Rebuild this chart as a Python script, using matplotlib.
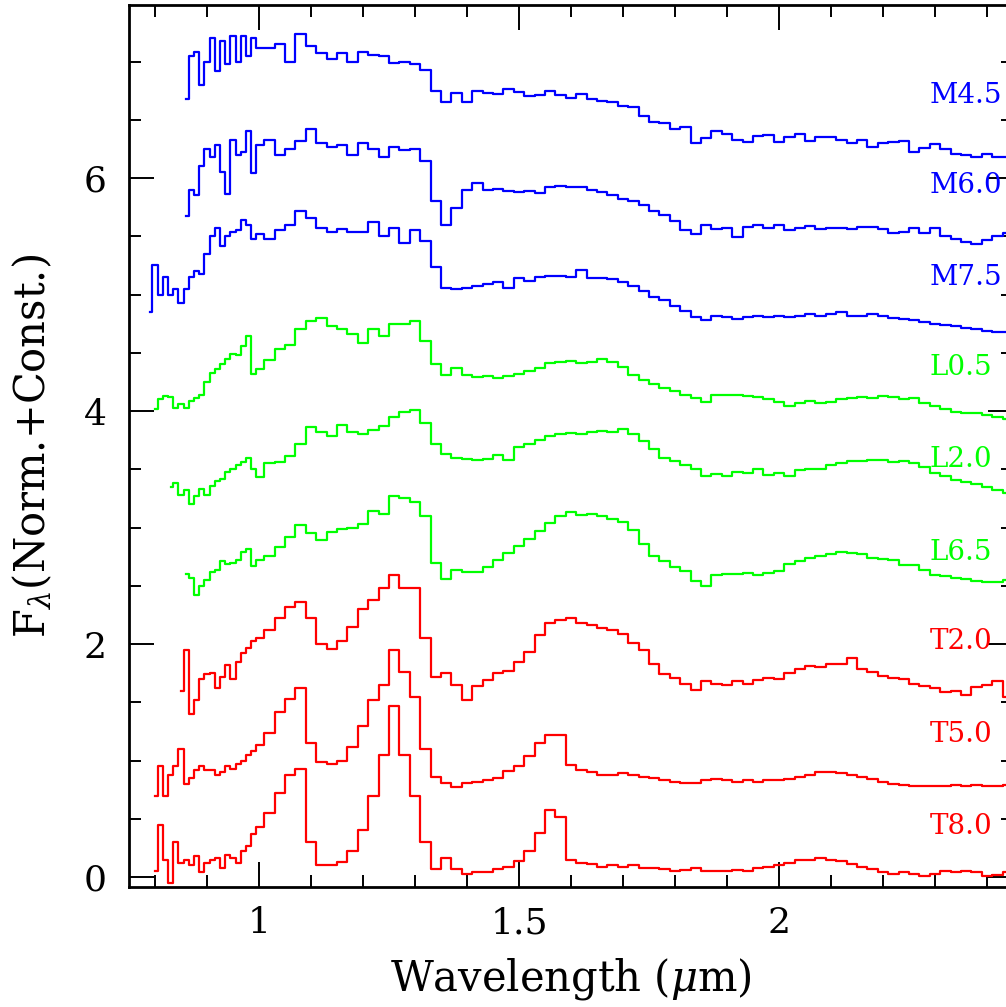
import matplotlib
matplotlib.use('Agg')
import matplotlib.pyplot as plt
from matplotlib.ticker import MultipleLocator, FuncFormatter

plt.rcParams['font.family'] = 'DejaVu Serif'
plt.rcParams['mathtext.fontset'] = 'dejavuserif'

# wavelength grid (micron), finer at the blue end
wave = [0.79, 0.80, 0.81, 0.82, 0.83, 0.84, 0.85, 0.86, 0.87, 0.88, 0.89,
        0.90, 0.91, 0.92, 0.93, 0.94, 0.95, 0.96, 0.97, 0.98, 0.99, 1.00,
        1.02, 1.04, 1.06, 1.08, 1.10, 1.12, 1.14, 1.16, 1.18, 1.20, 1.22,
        1.24, 1.26, 1.28, 1.30, 1.32,
        1.34, 1.36, 1.38, 1.40, 1.42, 1.44, 1.46, 1.48, 1.50, 1.52, 1.54,
        1.56, 1.58, 1.60, 1.62, 1.64, 1.66, 1.68, 1.70, 1.72, 1.74, 1.76,
        1.78, 1.80, 1.82, 1.84, 1.86, 1.88,
        1.90, 1.92, 1.94, 1.96, 1.98, 2.00, 2.02, 2.04, 2.06, 2.08, 2.10,
        2.12, 2.14, 2.16, 2.18, 2.20, 2.22, 2.24, 2.26, 2.28, 2.30, 2.32,
        2.34, 2.36, 2.38, 2.40, 2.42, 2.44]

# each spectrum ends at 2.44 um; it starts where its list runs out
m45 = [6.68, 7.05, 7.08, 6.80, 7.00, 7.20, 6.92, 7.18, 6.98, 7.22, 7.00, 7.22, 7.05, 7.20, 7.12,
       7.12, 7.15, 7.00, 7.24, 7.13, 7.07, 7.02, 7.07, 7.00, 7.08, 7.06, 7.05, 6.99, 7.00, 6.98, 6.93,
       6.75, 6.65, 6.73, 6.65, 6.75, 6.73, 6.72, 6.76, 6.74, 6.70, 6.71, 6.75, 6.71, 6.69,
       6.72, 6.68, 6.66, 6.65, 6.62, 6.61, 6.53, 6.48, 6.47, 6.42, 6.44, 6.30, 6.34, 6.40,
       6.38, 6.33, 6.31, 6.36, 6.37, 6.31, 6.35, 6.38, 6.32, 6.35, 6.35, 6.33, 6.30, 6.33,
       6.27, 6.30, 6.31, 6.32, 6.22, 6.26, 6.29, 6.25, 6.21, 6.20, 6.18, 6.21, 6.18, 6.18]

m60 = [5.67, 5.90, 5.85, 6.10, 6.25, 6.18, 6.28, 6.05, 5.86, 6.33, 6.20, 6.22, 6.40, 6.04, 6.28,
       6.33, 6.20, 6.25, 6.32, 6.42, 6.30, 6.27, 6.28, 6.20, 6.30, 6.25, 6.18, 6.27, 6.24, 6.25, 6.15,
       5.80, 5.60, 5.74, 5.90, 5.96, 5.90, 5.91, 5.89, 5.88, 5.89, 5.87, 5.92, 5.93, 5.92,
       5.92, 5.90, 5.88, 5.85, 5.82, 5.80, 5.77, 5.72, 5.68, 5.63, 5.55, 5.52, 5.60, 5.56,
       5.57, 5.49, 5.58, 5.60, 5.57, 5.60, 5.55, 5.57, 5.59, 5.56, 5.57, 5.57, 5.56, 5.58,
       5.58, 5.56, 5.53, 5.54, 5.57, 5.53, 5.57, 5.50, 5.48, 5.45, 5.43, 5.47, 5.50, 5.53]

m75 = [4.85, 5.25, 5.00, 5.15, 5.00, 5.05, 4.93, 5.05, 5.15, 5.20, 5.18, 5.35, 5.50, 5.57, 5.42,
       5.50, 5.54, 5.55, 5.64, 5.60, 5.48, 5.52,
       5.48, 5.55, 5.60, 5.72, 5.66, 5.57, 5.54, 5.56, 5.54, 5.54, 5.62, 5.50, 5.57, 5.44, 5.55, 5.46,
       5.24, 5.06, 5.05, 5.06, 5.07, 5.09, 5.11, 5.06, 5.14, 5.12, 5.15, 5.16, 5.16, 5.15,
       5.21, 5.14, 5.14, 5.13, 5.11, 5.07, 5.03, 4.98, 4.95, 4.90, 4.86, 4.81, 4.78, 4.82,
       4.81, 4.79, 4.81, 4.82, 4.81, 4.82, 4.81, 4.82, 4.83, 4.82, 4.83, 4.85, 4.82, 4.82,
       4.83, 4.82, 4.80, 4.79, 4.78, 4.76, 4.75, 4.74, 4.73, 4.71, 4.70, 4.69, 4.68, 4.68]

l05 = [4.02, 4.10, 4.13, 4.12, 4.03, 4.06, 4.03, 4.09, 4.11, 4.14, 4.25, 4.33, 4.36, 4.40,
       4.45, 4.49, 4.48, 4.56, 4.64, 4.32, 4.36,
       4.44, 4.53, 4.57, 4.70, 4.77, 4.80, 4.73, 4.70, 4.66, 4.58, 4.70, 4.64, 4.75, 4.75, 4.77, 4.60,
       4.40, 4.31, 4.37, 4.31, 4.29, 4.30, 4.28, 4.30, 4.32, 4.34, 4.37, 4.41, 4.42, 4.43,
       4.41, 4.42, 4.45, 4.42, 4.38, 4.31, 4.27, 4.23, 4.20, 4.17, 4.14, 4.11, 4.08, 4.14,
       4.14, 4.14, 4.13, 4.12, 4.10, 4.08, 4.04, 4.07, 4.09, 4.07, 4.08, 4.10, 4.11, 4.12,
       4.11, 4.13, 4.12, 4.10, 4.11, 4.07, 4.04, 4.02, 3.99, 3.98, 3.98, 3.97, 3.95, 3.93]

l20 = [3.35, 3.38, 3.28, 3.32, 3.20, 3.27, 3.33, 3.28, 3.36, 3.40, 3.42, 3.48, 3.50, 3.54,
       3.56, 3.60, 3.50, 3.43,
       3.55, 3.56, 3.61, 3.72, 3.86, 3.82, 3.79, 3.88, 3.82, 3.80, 3.84, 3.87, 3.95, 3.99, 4.01, 3.90,
       3.72, 3.63, 3.60, 3.59, 3.58, 3.59, 3.62, 3.58, 3.69, 3.72, 3.75, 3.79, 3.80, 3.81,
       3.80, 3.82, 3.83, 3.82, 3.85, 3.80, 3.74, 3.67, 3.60, 3.57, 3.54, 3.50, 3.44, 3.46,
       3.44, 3.48, 3.47, 3.50, 3.45, 3.47, 3.44, 3.49, 3.50, 3.50, 3.54, 3.55, 3.57, 3.57,
       3.58, 3.58, 3.56, 3.57, 3.55, 3.52, 3.47, 3.44, 3.41, 3.39, 3.37, 3.35, 3.32, 3.30]

l65 = [2.60, 2.57, 2.42, 2.50, 2.55, 2.62, 2.64, 2.71, 2.69, 2.70, 2.72, 2.79, 2.82, 2.67, 2.72,
       2.76, 2.83, 2.92, 3.02, 2.95, 2.89, 2.96, 2.99, 3.00, 3.03, 3.14, 3.12, 3.27, 3.25, 3.22, 3.10,
       2.70, 2.56, 2.64, 2.62, 2.62, 2.66, 2.72, 2.78, 2.84, 2.90, 2.97, 3.04, 3.10, 3.13,
       3.11, 3.12, 3.10, 3.07, 3.05, 2.98, 2.86, 2.76, 2.71, 2.66, 2.63, 2.54, 2.50, 2.59,
       2.60, 2.60, 2.61, 2.59, 2.61, 2.63, 2.69, 2.71, 2.74, 2.76, 2.77, 2.79, 2.78, 2.77,
       2.74, 2.73, 2.72, 2.68, 2.68, 2.64, 2.59, 2.58, 2.57, 2.56, 2.54, 2.53, 2.53, 2.55]

t20 = [1.60, 1.95, 1.40, 1.52, 1.70, 1.74, 1.75, 1.62, 1.72, 1.82, 1.70, 1.85, 1.92, 1.97,
       2.03, 2.05,
       2.12, 2.22, 2.32, 2.36, 2.22, 2.00, 1.96, 2.03, 2.15, 2.30, 2.38, 2.48, 2.59, 2.48, 2.48, 2.05,
       1.72, 1.75, 1.65, 1.52, 1.64, 1.69, 1.75, 1.77, 1.85, 1.93, 2.08, 2.18, 2.21, 2.22,
       2.18, 2.16, 2.14, 2.12, 2.09, 2.01, 1.95, 1.83, 1.74, 1.71, 1.66, 1.61, 1.68, 1.66,
       1.65, 1.68, 1.66, 1.69, 1.71, 1.70, 1.75, 1.79, 1.81, 1.80, 1.83, 1.83, 1.88, 1.79,
       1.76, 1.73, 1.71, 1.70, 1.66, 1.64, 1.62, 1.59, 1.60, 1.56, 1.63, 1.65, 1.68, 1.55]

t50 = [0.70, 0.95, 0.70, 0.88, 0.95, 1.10, 0.80, 0.85, 0.92, 0.95, 0.92, 0.92, 0.88, 0.90,
       0.95, 0.93, 0.97, 1.00, 1.05, 1.08, 1.13,
       1.24, 1.42, 1.53, 1.62, 1.15, 0.99, 0.97, 1.00, 1.12, 1.30, 1.52, 1.65, 1.95, 1.76, 1.55, 1.10,
       0.86, 0.81, 0.77, 0.81, 0.82, 0.83, 0.85, 0.91, 0.95, 1.04, 1.15, 1.22, 1.22, 0.96,
       0.92, 0.90, 0.88, 0.88, 0.89, 0.88, 0.86, 0.85, 0.83, 0.82, 0.81, 0.81, 0.83, 0.84,
       0.83, 0.82, 0.83, 0.82, 0.83, 0.83, 0.84, 0.86, 0.88, 0.90, 0.90, 0.89, 0.88, 0.86,
       0.84, 0.82, 0.80, 0.79, 0.78, 0.78, 0.78, 0.78, 0.79, 0.78, 0.79, 0.78, 0.78, 0.79]

t80 = [0.05, 0.45, 0.15, -0.05, 0.30, 0.12, 0.15, 0.10, 0.18, 0.04, 0.12, 0.15, 0.16, 0.08,
       0.19, 0.16, 0.12, 0.22, 0.27, 0.37, 0.43,
       0.55, 0.72, 0.88, 0.93, 0.30, 0.10, 0.10, 0.13, 0.22, 0.40, 0.70, 1.05, 1.47, 1.05, 0.70, 0.30,
       0.07, 0.16, 0.07, 0.03, 0.04, 0.04, 0.07, 0.09, 0.14, 0.22, 0.38, 0.58, 0.52, 0.15,
       0.12, 0.11, 0.09, 0.10, 0.09, 0.10, 0.08, 0.08, 0.07, 0.05, 0.06, 0.08, 0.05, 0.05,
       0.05, 0.06, 0.05, 0.08, 0.09, 0.10, 0.12, 0.15, 0.15, 0.16, 0.15, 0.14, 0.11, 0.09,
       0.07, 0.04, 0.03, 0.04, 0.03, 0.01, 0.03, 0.05, 0.04, 0.05, 0.04, 0.01, 0.02, 0.04]

spectra = [m45, m60, m75, l05, l20, l65, t20, t50, t80]
names = ['M4.5', 'M6.0', 'M7.5', 'L0.5', 'L2.0', 'L6.5', 'T2.0', 'T5.0', 'T8.0']
colors = ['#0000ff'] * 3 + ['#00ff00'] * 3 + ['#ff0000'] * 3
label_y = [6.71, 5.94, 5.15, 4.37, 3.58, 2.79, 2.02, 1.22, 0.43]

fig = plt.figure(figsize=(10.06, 10.07), dpi=100)
ax = fig.add_axes([129 / 1006, 120 / 1007, 884 / 1006, 882 / 1007])

for flux, name, col, ly in zip(spectra, names, colors, label_y):
    wl = wave[-len(flux):]
    ax.plot(wl, flux, drawstyle='steps-mid', color=col, lw=1.6)
    ax.text(2.29, ly, name, color=col, fontsize=20, ha='left', va='center')

ax.set_xlim(0.75, 2.45)
ax.set_ylim(-0.085, 7.485)

ax.xaxis.set_major_locator(MultipleLocator(0.5))
ax.xaxis.set_minor_locator(MultipleLocator(0.1))
ax.yaxis.set_major_locator(MultipleLocator(2))
ax.yaxis.set_minor_locator(MultipleLocator(0.5))
fmt = FuncFormatter(lambda v, p: '%g' % v)
ax.xaxis.set_major_formatter(fmt)
ax.yaxis.set_major_formatter(fmt)

ax.tick_params(which='both', direction='in', top=True, right=True, width=1.4)
ax.tick_params(which='major', length=18, labelsize=26)
ax.tick_params(axis='x', which='major', pad=14)
ax.tick_params(axis='y', which='major', pad=16)
ax.tick_params(which='minor', length=8.5)
for sp in ax.spines.values():
    sp.set_linewidth(2)

ax.set_xlabel(r'Wavelength ($\mu$m)', fontsize=30)
ax.set_ylabel(r'F$_\lambda$(Norm.+Const.)', fontsize=30)
ax.xaxis.set_label_coords(0.5, -0.078)
ax.yaxis.set_label_coords(-0.085, 0.5)

fig.savefig('out.png', dpi=100)
